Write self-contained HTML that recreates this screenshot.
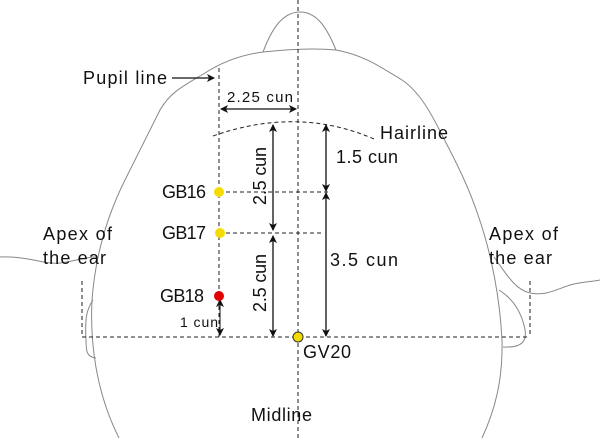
<!DOCTYPE html>
<html><head><meta charset="utf-8"><style>
html,body{margin:0;padding:0;background:#fff}
svg{display:block}
text{font-family:"Liberation Sans",sans-serif;fill:#111}
</style></head><body>
<svg width="600" height="438" viewBox="0 0 600 438" xmlns="http://www.w3.org/2000/svg">
<defs>
<marker id="a" markerWidth="8" markerHeight="8" refX="7" refY="4" orient="auto-start-reverse" markerUnits="userSpaceOnUse"><path d="M0,0 L8,4 L0,8 L2,4z" fill="#111"/></marker>
</defs>
<g fill="none" stroke="#888" stroke-width="1">
<path d="M263,52 C272,28 283,12 300,12 C317,12 327,28 336,50"/>
<path d="M263,52 C240,55 222,62 205,73 C185,85 170,92 160,110 C150,130 140,150 125,180 C105,220 95,260 92,300 C90,340 95,390 119,438"/>
<path d="M263,52 C290,49 315,48 336,50 C365,55 385,70 402,80 C420,92 432,115 442,135 C455,160 468,185 478,215 C492,255 500,300 502,340 C503,380 495,410 482,438"/>
<path d="M0,257 C30,256 45,265 60,263 C75,261 85,257 96,257"/>
<path d="M93,300 C86,310 85,320 86,340 C86,352 87,357 96,358"/>
<path d="M494,257 C505,272 515,290 530,293 C545,296 555,290 570,285 C585,281 592,282 600,280"/>
<path d="M499,290 C512,298 520,310 524,325 C528,340 524,348 503,347"/>
</g>
<g fill="none" stroke="#222" stroke-width="1" stroke-dasharray="4,3">
<line x1="298" y1="0" x2="298" y2="438"/>
<line x1="219" y1="68" x2="219" y2="337"/>
<line x1="82" y1="337" x2="530" y2="337"/>
<line x1="82" y1="281" x2="82" y2="337"/>
<line x1="530" y1="281" x2="530" y2="337"/>
<line x1="219" y1="192" x2="328" y2="192"/>
<line x1="219" y1="233" x2="324" y2="233"/>
<path d="M213,136 Q298,106 374,139"/>
</g>
<g stroke="#111" stroke-width="1.3" fill="none">
<line x1="172" y1="78" x2="214" y2="78" marker-end="url(#a)"/>
<line x1="221" y1="109" x2="296" y2="109" marker-start="url(#a)" marker-end="url(#a)"/>
<line x1="273" y1="125" x2="273" y2="230" marker-start="url(#a)" marker-end="url(#a)"/>
<line x1="273" y1="236" x2="273" y2="336" marker-start="url(#a)" marker-end="url(#a)"/>
<line x1="326" y1="125" x2="326" y2="191" marker-start="url(#a)" marker-end="url(#a)"/>
<line x1="326" y1="193" x2="326" y2="336" marker-start="url(#a)" marker-end="url(#a)"/>
<line x1="220" y1="300" x2="220" y2="335" stroke-width="1" marker-start="url(#a)" marker-end="url(#a)"/>
</g>
<circle cx="219" cy="192" r="5" fill="#f5dc00"/>
<circle cx="220" cy="233" r="5" fill="#f5dc00"/>
<circle cx="219" cy="296" r="5" fill="#e00000"/>
<circle cx="298" cy="337" r="5" fill="#f5dc00" stroke="#333" stroke-width="1"/>
<g font-size="18">
<text x="83" y="84" textLength="84">Pupil line</text>
<text x="227" y="102" font-size="15" textLength="66">2.25 cun</text>
<text x="380" y="139" textLength="68">Hairline</text>
<text x="336" y="163" textLength="62">1.5 cun</text>
<text x="330" y="266" textLength="68">3.5 cun</text>
<text x="162" y="198" textLength="44">GB16</text>
<text x="162" y="239" textLength="44">GB17</text>
<text x="160" y="302" textLength="44">GB18</text>
<text x="180" y="327" font-size="14" textLength="38">1 cun</text>
<text x="303" y="358" textLength="48">GV20</text>
<text x="251" y="421" textLength="61">Midline</text>
<text x="43" y="240" textLength="69">Apex of</text>
<text x="43" y="264" textLength="63">the ear</text>
<text x="489" y="240" textLength="69">Apex of</text>
<text x="489" y="264" textLength="63">the ear</text>
<text transform="translate(266,205) rotate(-90)" textLength="58">2.5 cun</text>
<text transform="translate(266,312) rotate(-90)" textLength="58">2.5 cun</text>
</g>
</svg>
</body></html>
